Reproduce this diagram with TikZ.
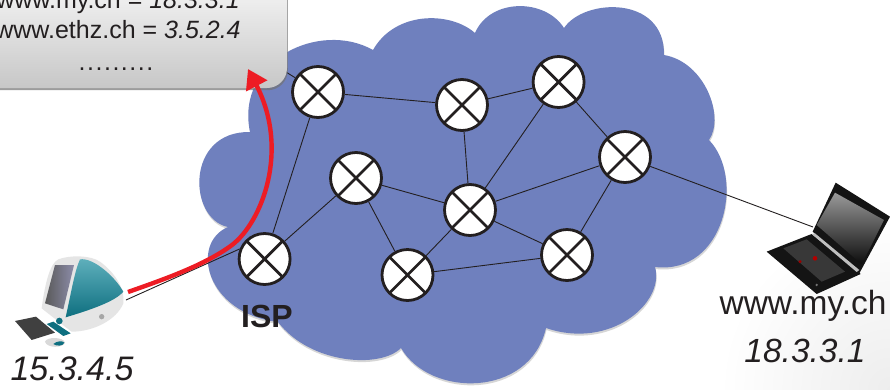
\documentclass[tikz,border=0pt]{standalone}
\usepackage{fontspec}
\setmainfont{Liberation Sans}
\usetikzlibrary{shadows,arrows.meta,shadings}
\definecolor{cloudblue}{HTML}{6F80BE}
\definecolor{ink}{HTML}{231F20}
\definecolor{redarrow}{HTML}{ED1C24}
\definecolor{teal1}{HTML}{1C8FA0}
\definecolor{teal2}{HTML}{0E6F80}
\tikzset{
  router/.style={circle,draw=ink,fill=white,line width=2.8pt,minimum size=51pt,inner sep=0pt,
    path picture={\draw[ink,line width=2.8pt]
      (path picture bounding box.north west)--(path picture bounding box.south east)
      (path picture bounding box.south west)--(path picture bounding box.north east);}},
  link/.style={draw=ink,line width=0.9pt},
  big/.style={inner sep=0pt,anchor=base,text=ink,font=\fontsize{33.5}{33.5}\selectfont},
  small/.style={inner sep=0pt,anchor=base,text=ink,font=\fontsize{25}{25}\selectfont},
}
\begin{document}
\begin{tikzpicture}[x=1pt,y=-1pt]
\clip (0,0) rectangle (890,389);
\fill[white] (0,0) rectangle (890,389);
\shade[inner color=black!7,outer color=white] (890,389) circle (170);
% cloud
\fill[cloudblue,drop shadow={shadow xshift=0.5pt,shadow yshift=-2pt,fill=gray!45,opacity=.7}]
  (373,50) .. controls (395,11) and (450,11) .. (475,33)
  .. controls (490,-2) and (545,-2) .. (564,28)
  .. controls (584,-2) and (665,-5) .. (664,55)
  .. controls (705,62) and (725,117) .. (709,140)
  .. controls (745,177) and (725,275) .. (655,267)
  .. controls (665,303) and (610,350) .. (546,328)
  .. controls (530,398) and (430,398) .. (401,348)
  .. controls (380,369) and (310,364) .. (278,322)
  .. controls (205,313) and (190,243) .. (228,227)
  .. controls (188,219) and (185,131) .. (250,132)
  .. controls (235,60) and (320,20) .. (373,50) -- cycle;
% routers
\node[router] (r1) at (318,92) {};
\node[router] (r2) at (462,105) {};
\node[router] (r3) at (558.6,82) {};
\node[router] (r4) at (625,157) {};
\node[router] (r5) at (356,178) {};
\node[router] (r6) at (470,210) {};
\node[router] (r7) at (567,255) {};
\node[router] (r8) at (407.5,275) {};
\node[router] (isp) at (264.6,259) {};
\coordinate (compend) at (126,300);
\coordinate (lapend) at (813,227);
\coordinate (dnsend) at (270,62);
\coordinate (redstart) at (128,292);
\coordinate (redtip) at (248,69);
% links
\path[link] (r1)--(r2) (r2)--(r3) (r1)--(isp) (isp)--(r5) (r5)--(r6) (r5)--(r8)
  (r8)--(r6) (r8)--(r7) (r6)--(r7) (r6)--(r2) (r6)--(r3) (r6)--(r4) (r3)--(r4)
  (r4)--(r7) (r4)--(lapend) (isp.158)--(compend) (r1)--(dnsend);
% callout
\node[rounded corners=20pt,minimum width=327pt,minimum height=128pt,inner sep=0pt,
  top color=white,bottom color=black!22,
  drop shadow={shadow xshift=0.8pt,shadow yshift=-2.2pt,fill=black!55,opacity=.7}]
  (dns) at (123.5,24) {};
\node[small] (t1) at (118,8) {www.my.ch = \textit{18.3.3.1}};
\node[small] (t2) at (118,38) {www.ethz.ch = \textit{3.5.2.4}};
\node[small,font=\fontsize{25}{25}\selectfont\addfontfeatures{LetterSpace=6}] (t3) at (116,70) {.........};
% red arrow
\draw[redarrow,line width=4.4pt,-{Triangle[length=19pt,width=23pt]}]
  (redstart) .. controls (165,279) and (205,265) .. (232,245)
  .. controls (262,222) and (290,150) .. (redtip);
% labels
\node[big,font=\bfseries\fontsize{32}{32}\selectfont] (ispl) at (267,327) {ISP};
\node[big,font=\itshape\fontsize{34}{34}\selectfont] (ipa) at (72,380) {15.3.4.5};
\node[big] (wm) at (803,314) {www.my.ch};
\node[big,font=\itshape\fontsize{33.5}{33.5}\selectfont] (ipb) at (805,362) {18.3.3.1};
% iMac
\begin{scope}[shift={(0,220)},x=.3333pt,y=-.3333pt]
  \fill[black!10] (125,265) .. controls (135,190) and (150,130) .. (175,118)
    .. controls (210,105) and (270,105) .. (300,125)
    .. controls (340,155) and (375,200) .. (370,250)
    .. controls (350,300) and (280,335) .. (215,335) -- (195,320) -- cycle;
  \shade[top color=teal1!70,bottom color=teal2] (197,292) .. controls (215,210) and (225,150) .. (240,118)
    .. controls (280,112) and (345,170) .. (370,215)
    .. controls (345,245) and (270,270) .. cycle;
  \shade[left color=black!65,right color=blue!25!black!45] (135,250) -- (165,135) -- (222,135) -- (190,268) -- cycle;
  \fill[black!75] (45,303) -- (108,290) -- (165,338) -- (95,360) -- cycle;
  \fill[teal2] (140,312) -- (160,305) -- (212,340) -- (190,348) -- cycle;
  \fill[black!15] (135,365) .. controls (140,350) and (190,350) .. (195,368) .. controls (190,385) and (140,385) .. cycle;
  \fill[teal2] (160,372) .. controls (170,362) and (190,362) .. (193,368) .. controls (190,378) and (170,380) .. cycle;
  \fill[teal2] (178,303) circle (10);
  \fill[black!35] (305,290) circle (8);
\end{scope}
% laptop
\begin{scope}[shift={(700,170)},x=.3333pt,y=-.3333pt]
  \fill[black!92] (407,38) -- (570,140) -- (478,310) -- (338,185) -- cycle;
  \shade[top color=black!40,bottom color=black!95] (405,68) -- (552,150) -- (485,283) -- (350,165) -- cycle;
  \fill[black!92] (200,245) -- (335,192) -- (482,312) -- (350,372) -- cycle;
  \fill[black!25] (335,192) -- (345,190) -- (478,300) -- (470,306) -- cycle;
  \fill[black!78] (250,235) -- (320,208) -- (435,305) -- (365,335) -- cycle;
  \fill[red!70!black] (345,265) circle (7);
  \fill[red!60!black] (300,275) circle (5);
  \fill[black!55] (350,345) circle (4);
\end{scope}
\end{tikzpicture}
\end{document}
